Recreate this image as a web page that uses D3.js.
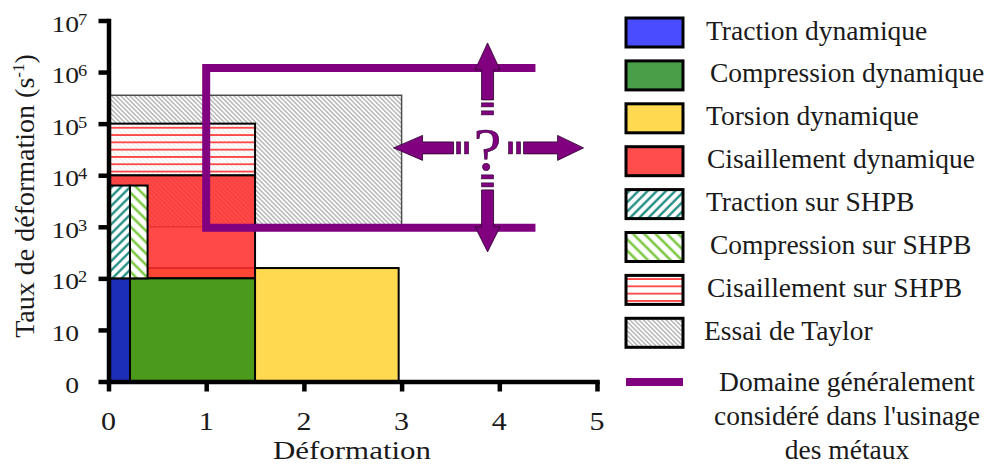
<!DOCTYPE html>
<html>
<head>
<meta charset="utf-8">
<title>Domaines de vitesse de déformation</title>
<script src="https://d3js.org/d3.v7.min.js"></script>
<style>
body { margin: 0; background: #fff; }
text { font-family: "Liberation Serif", "Times New Roman", Times, serif; fill: #1a1a1a; }
</style>
</head>
<body>
<svg width="987" height="465"></svg>
<script>
// strain ranges and strain-rate ranges (in decades: 0 -> "0", 1 -> 10, 2 -> 10^2 ...)
var names = ["Traction dynamique", "Compression dynamique", "Torsion dynamique", "Cisaillement dynamique",
             "Traction sur SHPB", "Compression sur SHPB", "Cisaillement sur SHPB", "Essai de Taylor"];
var strainMin = [0, 0.22, 0, 0, 0, 0.22, 0, 0];
var strainMax = [0.22, 1.5, 2.97, 1.5, 0.22, 0.4, 1.5, 3.0];
var rateMin = [0, 0, 0, 2, 2, 2, 4, 3];
var rateMax = [2, 2, 2.2, 4, 3.8, 3.8, 5, 5.55];

// machining domain (open on the right)
var domStrain = [4.37, 1, 1, 4.37];
var domRate = [6.08, 6.08, 2.98, 2.98];
var domLabel = ["Domaine généralement", "considéré dans l'usinage", "des métaux"];

var xTicks = [0, 1, 2, 3, 4, 5];
var yTicks = [0, 1, 2, 3, 4, 5, 6, 7];
var xTitle = "Déformation";

// "?" annotation centre, in data units
var qStrain = 3.88, qRate = 4.53;

var svg = d3.select("svg");
var x = d3.scaleLinear().domain([0, 5]).range([108.5, 597]);
var y = d3.scaleLinear().domain([0, 7]).range([381.5, 20.5]);

var defs = svg.append("defs");
function hatch(id, color, gap, width, angle, bgOpacity) {
  var p = defs.append("pattern").attr("id", id)
    .attr("patternUnits", "userSpaceOnUse")
    .attr("width", gap).attr("height", gap)
    .attr("patternTransform", "rotate(" + angle + ")");
  p.append("rect").attr("width", gap).attr("height", gap)
    .attr("fill", "#fff").attr("fill-opacity", bgOpacity);
  p.append("line").attr("x1", gap / 2).attr("x2", gap / 2)
    .attr("y1", 0).attr("y2", gap)
    .attr("stroke", color).attr("stroke-width", width);
}
hatch("hTeal", "#13857a", 6.5, 2.2, 45, 1);
hatch("hGreen", "#7cc843", 8, 2.6, -45, 1);
hatch("hRed", "#ff4545", 7.3, 1.8, 90, 0.8);
hatch("hGray", "#888", 3.2, 0.9, -45, 1);

var plotFill = ["#1c2db8", "#4b9a1b", "#ffd94f", "#ff3030", "url(#hTeal)", "url(#hGreen)", "url(#hRed)", "url(#hGray)"];
var plotOpacity = [1, 1, 1, 0.88, 1, 1, 1, 1];
var legendFill = ["#4a4cff", "#4a9e48", "#ffd94f", "#ff4d4d", "url(#hTeal)", "url(#hGreen)", "url(#hRed)", "url(#hGray)"];
var drawOrder = [7, 2, 3, 6, 1, 0, 4, 5];

// rectangles
svg.append("g").selectAll("rect")
  .data(drawOrder)
  .enter().append("rect")
    .attr("x", function(i) { return x(strainMin[i]); })
    .attr("y", function(i) { return y(rateMax[i]); })
    .attr("width", function(i) { return x(strainMax[i]) - x(strainMin[i]); })
    .attr("height", function(i) { return y(rateMin[i]) - y(rateMax[i]); })
    .attr("fill", function(i) { return plotFill[i]; })
    .attr("fill-opacity", function(i) { return plotOpacity[i]; })
    .attr("stroke", function(i) { return i == 7 ? "#4d4d4d" : "#000"; })
    .attr("stroke-width", function(i) { return i == 7 ? 1.5 : 2; });

// machining domain
var line = d3.line().x(function(d) { return x(d[0]); }).y(function(d) { return y(d[1]); });
svg.append("path")
  .attr("d", line(d3.zip(domStrain, domRate)))
  .attr("fill", "none").attr("stroke", "#800080")
  .attr("stroke-width", 8).attr("stroke-linejoin", "miter");

// arrows round the "?"
var cx = x(qStrain), cy = y(qRate);
var arrowAngle = [-90, 90, 180, 0];
var arrowStart = [48, 42, 34, 36];
var arrowBase = [78, 79, 65, 70];
var arrowTip = [105, 104, 94, 96];
var ann = svg.append("g").attr("transform", "translate(" + cx + "," + cy + ")");
arrowAngle.forEach(function(a, k) {
  var g = ann.append("g").attr("transform", "rotate(" + a + ")");
  var s = arrowStart[k], b = arrowBase[k], t = arrowTip[k];
  g.append("polygon")
    .attr("points", [[s, -6], [b, -6], [b, -12.5], [t, 0], [b, 12.5], [b, 6], [s, 6]].join(" "))
    .attr("fill", "#800080").attr("stroke", "#2a002a").attr("stroke-width", 0.8);
  [s - 7, s - 15].forEach(function(p) {
    g.append("rect").attr("x", p).attr("y", -6).attr("width", 4).attr("height", 12)
      .attr("fill", "#800080").attr("stroke", "#2a002a").attr("stroke-width", 0.6);
  });
});
ann.append("text").attr("text-anchor", "middle").attr("y", 22)
  .attr("font-size", 62).style("fill", "#800080")
  .attr("stroke", "#2a002a").attr("stroke-width", 0.6)
  .text("?");

// axes
var yAxis = svg.append("g").attr("transform", "translate(108.5,0)")
  .call(d3.axisLeft(y).tickValues(yTicks).tickSize(10).tickSizeOuter(0).tickFormat(""));
var xAxis = svg.append("g").attr("transform", "translate(0,381.5)")
  .call(d3.axisBottom(x).tickValues(xTicks).tickSize(10).tickSizeOuter(0).tickFormat(""));
svg.selectAll(".domain, .tick line").attr("stroke", "#000").attr("stroke-width", 4.5);
svg.selectAll(".domain").attr("stroke-linecap", "square");

function label(str, px, py, size, sx, anchor) {
  var g = svg.append("g").attr("transform", "translate(" + px + "," + py + ") scale(" + sx + ",1)");
  return g.append("text").attr("text-anchor", anchor).attr("font-size", size).text(str);
}

xTicks.forEach(function(v) { label(v, x(v), 430, 25, 1.2, "middle"); });
yTicks.forEach(function(v) {
  var ty = y(v);
  label(v == 0 ? "0" : "10", 79, ty + 11, 23, 1.2, "end");
  if (v > 1) label(v, 78, ty + 4, 16, 1.15, "start");
});

label(xTitle, 352, 459, 26, 1.19, "middle");
var yt = svg.append("text").attr("transform", "translate(34,196) rotate(-90)")
  .attr("text-anchor", "middle").attr("font-size", 28);
yt.append("tspan").text("Taux de déformation (s");
yt.append("tspan").attr("dy", -10).attr("font-size", 17).text("-1");
yt.append("tspan").attr("dy", 10).text(")");

// legend
var legDx = [0, 4, 0, 1, 0, 4, 1, -2];
var leg = svg.append("g").selectAll("g")
  .data(d3.range(names.length))
  .enter().append("g")
    .attr("transform", function(i) { return "translate(626," + (18 + i * 42.9) + ")"; });
leg.append("rect").attr("width", 57).attr("height", 29)
  .attr("fill", function(i) { return legendFill[i]; })
  .attr("stroke", "#000").attr("stroke-width", 3);
leg.append("text").attr("x", function(i) { return 80 + legDx[i]; }).attr("y", 21.5).attr("font-size", 27.5)
  .text(function(i) { return names[i]; });

svg.append("line").attr("x1", 626).attr("x2", 683).attr("y1", 382).attr("y2", 382)
  .attr("stroke", "#800080").attr("stroke-width", 8);
svg.append("g").selectAll("text")
  .data(domLabel)
  .enter().append("text")
    .attr("x", 847).attr("y", function(d, i) { return 391 + i * 34; })
    .attr("text-anchor", "middle").attr("font-size", 27.5)
    .text(function(d) { return d; });
</script>
</body>
</html>
